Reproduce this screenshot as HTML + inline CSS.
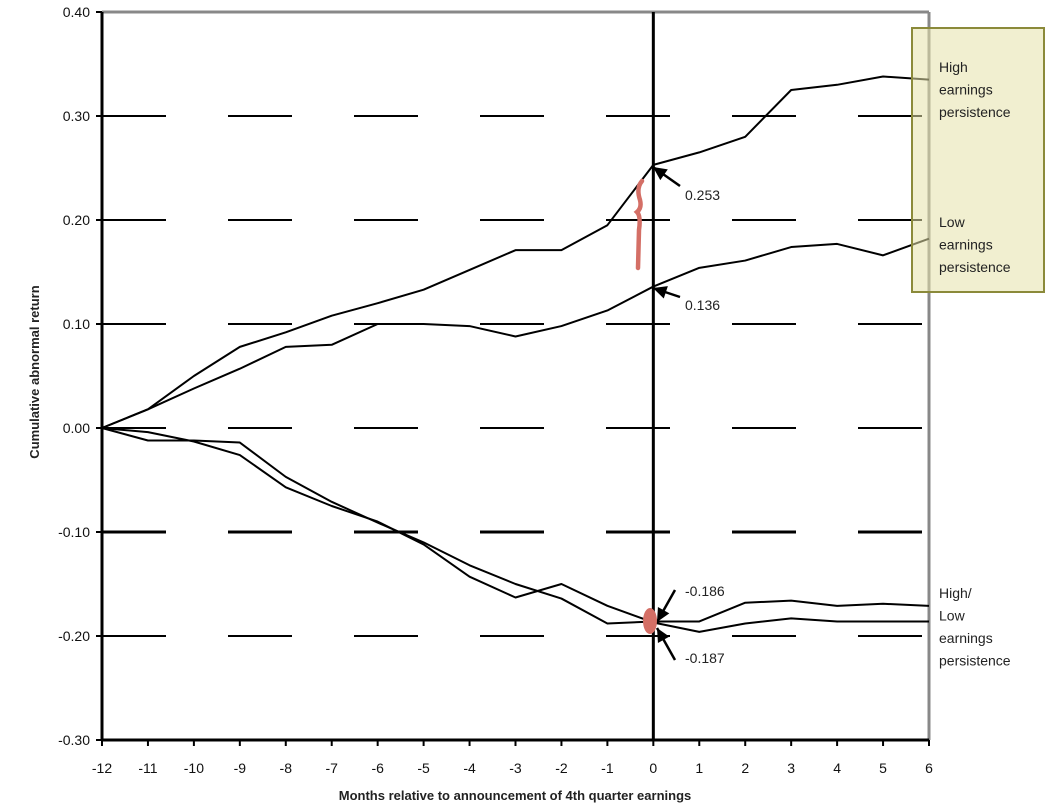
<!DOCTYPE html>
<html><head><meta charset="utf-8"><style>
body{margin:0;background:#fff;}
svg{display:block;font-family:"Liberation Sans",Arial,sans-serif;}
</style></head><body>
<svg id="chart" width="1060" height="812" viewBox="0 0 1060 812" xmlns="http://www.w3.org/2000/svg">
<g id="grid"></g>
<g id="axes"></g>
<g id="series"></g>
<g id="ann"></g>
</svg>
<script>
const months = [-12,-11,-10,-9,-8,-7,-6,-5,-4,-3,-2,-1,0,1,2,3,4,5,6];
const highUp = [0,0.018,0.05,0.078,0.092,0.108,0.12,0.133,0.152,0.171,0.171,0.195,0.253,0.265,0.28,0.325,0.33,0.338,0.335];
const lowUp = [0,0.018,0.038,0.057,0.078,0.08,0.1,0.1,0.098,0.088,0.098,0.113,0.136,0.154,0.161,0.174,0.177,0.166,0.182];
const downA = [0,-0.004,-0.013,-0.026,-0.057,-0.075,-0.09,-0.112,-0.143,-0.163,-0.15,-0.171,-0.187,-0.196,-0.188,-0.183,-0.186,-0.186,-0.186];
const downB = [0,-0.012,-0.012,-0.014,-0.047,-0.071,-0.091,-0.11,-0.132,-0.15,-0.164,-0.188,-0.186,-0.186,-0.168,-0.166,-0.171,-0.169,-0.171];
const yTicks = [0.4,0.3,0.2,0.1,0,-0.1,-0.2,-0.3];
const yTickLabels = ["0.40","0.30","0.20","0.10","0.00","-0.10","-0.20","-0.30"];

const NS="http://www.w3.org/2000/svg";
const X0=102,X1=929,Y0=12,Y1=740;
const xs=m=>X0+(m-(-12))*(X1-X0)/18;
const ys=v=>Y0+(0.4-v)*(Y1-Y0)/0.7;
function mk(tag,attrs,parent,text){const e=document.createElementNS(NS,tag);for(const k in attrs)e.setAttribute(k,attrs[k]);if(text!==undefined)e.textContent=text;parent.appendChild(e);return e;}
const grid=document.getElementById('grid'),axes=document.getElementById('axes'),series=document.getElementById('series'),ann=document.getElementById('ann');

yTicks.forEach((v,i)=>{
  if(v<0.4&&v>-0.3){
    const g=mk('line',{x1:X0,x2:X1-6,y1:ys(v),y2:ys(v),stroke:'#000','stroke-width':v===-0.1?3:2,'stroke-dasharray':'64 62'},grid);
    
    
  }
  const t=mk('line',{x1:X0-6,x2:X0,y1:ys(v),y2:ys(v),stroke:'#000','stroke-width':2},axes);
  
  
  const l=mk('text',{x:90,y:ys(v)+5,'text-anchor':'end','font-size':14,fill:'#111'},axes,yTickLabels[i]);
  
  
});
let e;
e=mk('line',{x1:X0,x2:X1,y1:Y0,y2:Y0,stroke:'#888','stroke-width':3},axes);
e=mk('line',{x1:X1,x2:X1,y1:Y0,y2:Y1,stroke:'#888','stroke-width':3},axes);
e=mk('line',{x1:X0,x2:X0,y1:Y0,y2:Y1,stroke:'#000','stroke-width':3},axes);
e=mk('line',{x1:X0,x2:X1,y1:Y1,y2:Y1,stroke:'#000','stroke-width':3},axes);
e=mk('line',{x1:xs(0),x2:xs(0),y1:Y0,y2:Y1,stroke:'#000','stroke-width':3},axes);
months.forEach(m=>{
  const t=mk('line',{x1:xs(m),x2:xs(m),y1:Y1,y2:Y1+6,stroke:'#000','stroke-width':2},axes);
  
  
  const l=mk('text',{x:xs(m),y:773,'text-anchor':'middle','font-size':14,fill:'#111'},axes,String(m));
  
  
});
e=mk('text',{x:515,y:800,'text-anchor':'middle','font-size':13,'font-weight':'bold',fill:'#222'},axes,'Months relative to announcement of 4th quarter earnings');

e=mk('text',{x:0,y:0,'text-anchor':'middle','font-size':13,'font-weight':'bold',fill:'#222',transform:'translate(39,372) rotate(-90)'},axes,'Cumulative abnormal return');


[[highUp,'high-persistence-good-news'],[lowUp,'low-persistence-good-news'],[downA,'bad-news-series-a'],[downB,'bad-news-series-b']].forEach(([arr,name])=>{
  const p=mk('polyline',{points:arr.map((v,i)=>xs(months[i])+','+ys(v)).join(' '),fill:'none',stroke:'#000','stroke-width':2,'stroke-linejoin':'round'},series);
  
  
});

e=mk('rect',{x:912,y:28,width:132,height:264,fill:'rgba(230,226,170,0.55)',stroke:'#8b8a3a','stroke-width':2},ann);

function lbl(lines,x,y0,dy,name){const t=mk('text',{x:x,y:y0,'font-size':14,fill:'#222'},ann);lines.forEach((s,i)=>{mk('tspan',{x:x,y:y0+i*dy},t,s);});}
lbl(['High','earnings','persistence'],939,72,22.5,'legend-high');
lbl(['Low','earnings','persistence'],939,227,22.5,'legend-low');
lbl(['High/','Low','earnings','persistence'],939,598,22.5,'legend-bottom');

function arrow(x1,y1,x2,y2,name){
  const g=mk('g',{},ann);
  mk('line',{x1:x1,y1:y1,x2:x2,y2:y2,stroke:'#000','stroke-width':2.5},g);
  const a=Math.atan2(y2-y1,x2-x1),L=15;
  const p=[[x2,y2],[x2-L*Math.cos(a-0.45),y2-L*Math.sin(a-0.45)],[x2-L*Math.cos(a+0.45),y2-L*Math.sin(a+0.45)]];
  mk('polygon',{points:p.map(q=>q.join(',')).join(' '),fill:'#000'},g);
}
arrow(680,186,653,167,'arrow-0253');
arrow(680,297,653,288,'arrow-0136');
arrow(675,590,657,622,'arrow-neg0186');
arrow(675,660,657,628,'arrow-neg0187');
[['0.253',685,200],['0.136',685,310],['-0.186',685,596],['-0.187',685,663]].forEach(([s,x,y])=>{
  const t=mk('text',{x:x,y:y,'font-size':14,fill:'#222'},ann,s);
  
  
});
e=mk('path',{d:'M642,181 Q636,188 640,200 Q642,208 637,212 Q641,216 639,230 L638,268',fill:'none',stroke:'#d46f66','stroke-width':4.5,'stroke-linecap':'round'},ann);

e=mk('ellipse',{cx:650,cy:621,rx:7,ry:13,fill:'#d46f66'},ann);

</script>
</body></html>
